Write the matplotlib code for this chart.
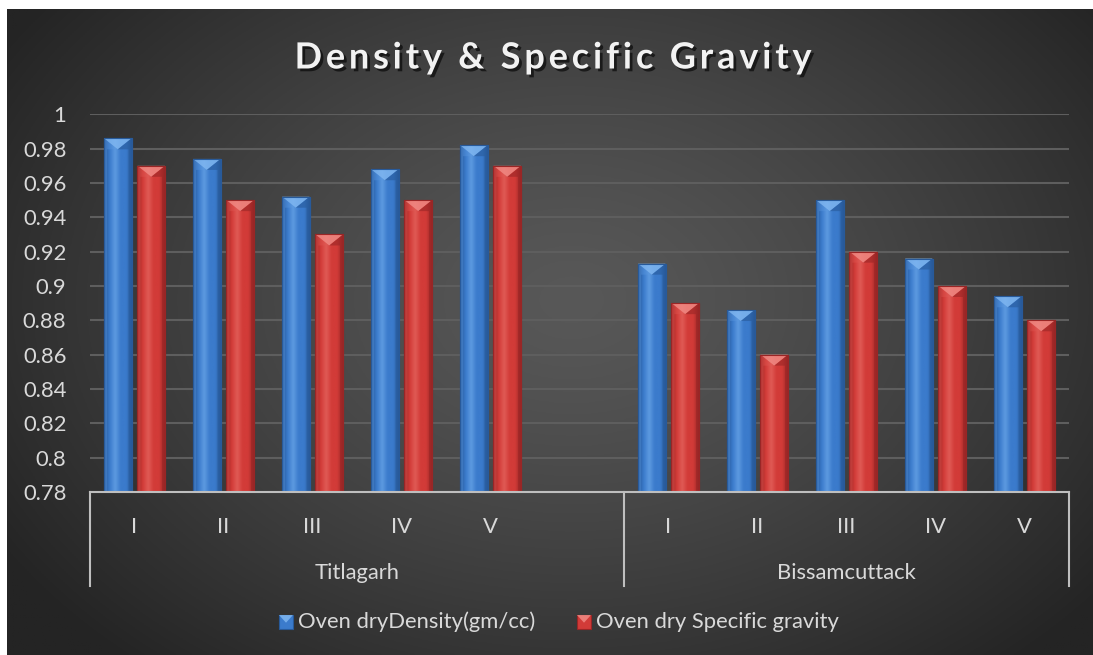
import numpy as np
import matplotlib
matplotlib.use("Agg")
import matplotlib.pyplot as plt
from matplotlib.patches import Polygon, Rectangle
from matplotlib.colors import LinearSegmentedColormap
from matplotlib.transforms import blended_transform_factory
import matplotlib.patheffects as pe

# ---- data ----
groups = ["Titlagarh", "Bissamcuttack"]
samples = ["I", "II", "III", "IV", "V"]
density_titlagarh = [0.986, 0.974, 0.952, 0.968, 0.982]
sg_titlagarh = [0.970, 0.950, 0.930, 0.950, 0.970]
density_bissam = [0.913, 0.886, 0.950, 0.916, 0.894]
sg_bissam = [0.890, 0.860, 0.920, 0.900, 0.880]
series_names = ["Oven dryDensity(gm/cc)", "Oven dry Specific gravity"]
y_ticks = [0.78, 0.80, 0.82, 0.84, 0.86, 0.88, 0.90, 0.92, 0.94, 0.96, 0.98, 1.0]
y_tick_labels = ["0.78", "0.8", "0.82", "0.84", "0.86", "0.88", "0.9",
                 "0.92", "0.94", "0.96", "0.98", "1"]
title = "Density & Specific Gravity"

FONT = "Lato"
TXT = "#d9d9d9"
FS = 15.8
W, H = 1093, 655

fig = plt.figure(figsize=(W / 100, H / 100), dpi=100, facecolor="white")

# ---- dark radial background ----
bg = fig.add_axes([7 / W, 0, 1 - 7 / W, 1 - 9 / H], zorder=-10)
gx, gy = np.meshgrid(np.linspace(0, 1, 500), np.linspace(0, 1, 300))
r = np.sqrt(((gx - 0.52) / 0.62) ** 2 + ((gy - 0.45) / 0.75) ** 2)
r = np.clip(r, 0, 1)
c_in = np.array([0x58, 0x58, 0x58]) / 255
c_out = np.array([0x24, 0x24, 0x24]) / 255
img = c_in[None, None, :] * (1 - r[..., None] ** 1.3) + c_out[None, None, :] * (r[..., None] ** 1.3)
bg.imshow(img, aspect="auto", extent=[0, 1, 0, 1], origin="upper")
bg.set_axis_off()

# ---- main axes ----
ax_left, ax_right = 90 / W, 1069 / W
ax_bottom, ax_top = 1 - 492 / H, 1 - 114.3 / H
ax = fig.add_axes([ax_left, ax_bottom, ax_right - ax_left, ax_top - ax_bottom])
ax.set_facecolor("none")
ax.set_xlim(-0.5, 10.5)
ax.set_ylim(0.78, 1.0)
for s in ax.spines.values():
    s.set_visible(False)
ax.set_yticks(y_ticks)
ax.set_yticklabels(y_tick_labels)
ax.tick_params(axis="y", length=0, pad=17, labelcolor=TXT, labelsize=FS)
for lab in ax.get_yticklabels():
    lab.set_fontfamily(FONT)
ax.set_xticks([])
for yv in y_ticks[1:]:
    ax.axhline(yv, color="#5e5e5e", lw=1.5, zorder=0)
ax.axhline(0.78, color="#bfbfbf", lw=1.5, zorder=3, clip_on=False)

# positions: Titlagarh occupies slots 0-5 (last one empty), Bissamcuttack 6-10
x_t = np.arange(len(samples))
x_b = 6 + np.arange(len(samples))
xs = np.concatenate([x_t, x_b])
dens = np.array(density_titlagarh + density_bissam)
sg = np.array(sg_titlagarh + sg_bissam)

off, bw = 0.188, 0.31
px_per_y = (ax_top - ax_bottom) * H / (1.0 - 0.78)
px_per_x = (ax_right - ax_left) * W / 11.0

blue = dict(base="#3b7bcc", dark="#285a9a", light="#5d9ae0", top="#7fb6f0")
red = dict(base="#d23b38", dark="#992626", light="#e05a55", top="#f08a84")


def bevel_bars(xpos, vals, pal, label):
    bars = ax.bar(xpos, np.array(vals) - 0.78, width=bw, bottom=0.78,
                  color=pal["base"], edgecolor=pal["dark"], linewidth=0.8,
                  zorder=2, label=label)
    cmap = LinearSegmentedColormap.from_list(
        "b", [pal["dark"], pal["base"], pal["light"], pal["base"], pal["base"], pal["dark"]])
    grad = np.linspace(0, 1, 64)[None, :]
    bev_y = 11 / px_per_y
    side_x = 3 / px_per_x
    for b in bars:
        x0, y0 = b.get_x(), b.get_y()
        w, h = b.get_width(), b.get_height()
        im = ax.imshow(grad, cmap=cmap, aspect="auto", extent=[x0, x0 + w, y0, y0 + h],
                       zorder=2.1, interpolation="bicubic")
        im.set_clip_path(b)
        xc = x0 + w / 2
        top = y0 + h
        ax.add_patch(Polygon([[x0, top], [x0 + w, top], [xc, top - bev_y]], closed=True,
                             facecolor=pal["top"], edgecolor="none", alpha=0.85, zorder=2.2))
        ax.add_patch(Polygon([[x0, top], [xc, top - bev_y], [x0 + side_x, top - bev_y],
                              [x0 + side_x, y0], [x0, y0]], closed=True,
                             facecolor=pal["light"], edgecolor="none", alpha=0.35, zorder=2.2))
        ax.add_patch(Polygon([[x0 + w, top], [xc, top - bev_y], [x0 + w - side_x, top - bev_y],
                              [x0 + w - side_x, y0], [x0 + w, y0]], closed=True,
                             facecolor=pal["dark"], edgecolor="none", alpha=0.6, zorder=2.2))
        ax.add_patch(Rectangle((x0, y0), w, h, facecolor="none", edgecolor=pal["dark"],
                               lw=0.8, zorder=2.3))
    return bars


bevel_bars(xs - off, dens, blue, series_names[0])
bevel_bars(xs + off, sg, red, series_names[1])

# ---- two-level category axis ----
tr = blended_transform_factory(ax.transData, fig.transFigure)
for xpos, s in zip(xs, samples + samples):
    ax.text(xpos, 1 - 527 / H, s, transform=tr, ha="center", va="center",
            color=TXT, fontsize=FS, fontfamily=FONT)
group_spans = [(-0.5, 5.5), (5.5, 10.5)]
for (a, b), g in zip(group_spans, groups):
    ax.text((a + b) / 2, 1 - 573 / H, g, transform=tr, ha="center", va="center",
            color=TXT, fontsize=FS, fontfamily=FONT)
for xv in [-0.5, 5.5, 10.5]:
    ax.plot([xv, xv], [1 - 492 / H, 1 - 586 / H], transform=tr, color="#bfbfbf",
            lw=1.5, clip_on=False, zorder=3)

# ---- title with extra letter spacing ----
renderer = fig.canvas.get_renderer()
title_kw = dict(color="#f2f2f2", fontsize=26, fontweight="bold", fontfamily=FONT,
                va="center", ha="left",
                path_effects=[pe.SimplePatchShadow(offset=(2, -2), shadow_rgbFace="black",
                                                   alpha=0.6), pe.Normal()])
spacing = 3.8


def prefix_width(s):
    if not s:
        return 0.0
    t = fig.text(0, 0, s.replace(" ", "\u00a0"), **title_kw)
    wpx = t.get_window_extent(renderer).width
    t.remove()
    return wpx


total = prefix_width(title) + spacing * (len(title) - 1)
start = 553 - total / 2
for i, ch in enumerate(title):
    if ch == " ":
        continue
    xpx = start + prefix_width(title[:i]) + spacing * i
    fig.text(xpx / W, 1 - 58 / H, ch, **title_kw)

# ---- legend ----
def legend_key(x0_px, pal, text, tx_px):
    s = 14
    fx, fy = x0_px / W, 1 - (622 + s / 2) / H
    fw, fh = s / W, s / H
    fig.patches.append(Rectangle((fx, fy), fw, fh, transform=fig.transFigure,
                                 facecolor=pal["base"], edgecolor=pal["dark"], lw=0.8))
    fig.patches.append(Polygon([[fx, fy + fh], [fx + fw, fy + fh], [fx + fw / 2, fy + fh * 0.45]],
                               closed=True, transform=fig.transFigure,
                               facecolor=pal["top"], edgecolor="none", alpha=0.85))
    fig.text(tx_px / W, 1 - 622 / H, text, ha="left", va="center", color=TXT,
             fontsize=FS, fontfamily=FONT)


legend_key(279, blue, series_names[0], 298)
legend_key(577, red, series_names[1], 596)

fig.savefig("out.png", dpi=100, facecolor=fig.get_facecolor())
